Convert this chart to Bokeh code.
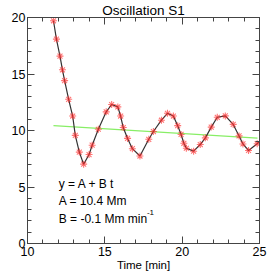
from bokeh.plotting import figure
from bokeh.models import Range1d, LinearAxis, SingleIntervalTicker, Label
from bokeh.embed import file_html
from bokeh.resources import INLINE

# Observed positions (time in minutes, displacement in Mm)
time_min = [11.68, 11.87, 12.10, 12.26, 12.40, 12.66, 12.92, 13.09, 13.35, 13.63,
            13.98, 14.18, 14.58, 15.09, 15.44, 15.84, 16.02, 16.19, 16.47, 16.78,
            17.27, 17.84, 18.14, 18.66, 19.05, 19.43, 19.71, 19.93, 20.11, 20.27,
            20.74, 21.17, 21.50, 21.88, 22.27, 22.79, 23.30, 23.68, 23.93, 24.29, 24.85]
position = [19.71, 18.09, 16.58, 15.37, 14.41, 12.76, 11.28, 9.57, 8.09, 7.02,
            7.87, 8.70, 10.11, 11.65, 12.30, 12.09, 11.28, 10.26, 9.30, 8.39,
            7.74, 9.22, 9.91, 10.91, 11.52, 11.28, 10.43, 9.65, 8.87, 8.43,
            8.17, 8.76, 9.35, 10.30, 11.17, 11.29, 10.54, 9.52, 8.81, 8.23, 8.83]

# Fitted curve (through the observations, continued to the right edge)
fit_t = time_min + [25.0]
fit_y = position + [9.05]

# Linear trend y = A + B t
trend_t = [11.68, 24.87]
trend_y = [10.43, 9.33]

title_text = "Oscillation S1"
xlabel_text = "Time [min]"
annot_lines = ["y = A + B t", "A = 10.4 Mm", "B = -0.1 Mm min"]
annot_sup = "-1"

FONT = "Liberation Sans"
AX = "#444444"

p = figure(width=273, height=273, output_backend="svg", toolbar_location=None,
           x_range=Range1d(10, 25), y_range=Range1d(0, 20),
           min_border_left=27, min_border_right=14, min_border_top=12, min_border_bottom=29,
           background_fill_color="white", border_fill_color="white")
p.xgrid.visible = False
p.ygrid.visible = False
p.outline_line_color = AX
p.outline_line_width = 1

p.title.text = title_text
p.title.align = "center"
p.title.text_font = FONT
p.title.text_font_size = "13.5px"
p.title.text_font_style = "normal"
p.title.text_color = "black"
p.title.text_line_height = 0.75
p.title.standoff = 0
p.title.offset = 0

def style_axis(ax, labels=True):
    ax.ticker = SingleIntervalTicker(interval=5, num_minor_ticks=5)
    ax.axis_line_color = AX
    ax.major_tick_line_color = AX
    ax.minor_tick_line_color = AX
    ax.major_tick_in = 7
    ax.major_tick_out = 0
    ax.minor_tick_in = 4
    ax.minor_tick_out = 0
    ax.major_label_text_font = FONT
    if labels:
        ax.major_label_text_font_size = "12.5px"
        ax.major_label_text_color = "black"
        ax.major_label_standoff = 3
    else:
        ax.major_label_text_font_size = "1px"
        ax.major_label_text_color = None
        ax.major_label_standoff = 0

style_axis(p.xaxis[0])
style_axis(p.yaxis[0])
p.yaxis[0].major_label_standoff = 2
p.xaxis[0].axis_label = xlabel_text
p.xaxis[0].axis_label_text_font = FONT
p.xaxis[0].axis_label_text_font_size = "11.5px"
p.xaxis[0].axis_label_text_font_style = "normal"
p.xaxis[0].axis_label_text_color = "black"
p.xaxis[0].axis_label_standoff = 0

top_ax = LinearAxis()
style_axis(top_ax, labels=False)
p.add_layout(top_ax, "above")
right_ax = LinearAxis()
style_axis(right_ax, labels=False)
p.add_layout(right_ax, "right")

p.line(trend_t, trend_y, line_color="#88ee66", line_width=1.2)
p.line(fit_t, fit_y, line_color="#333333", line_width=1.2)
p.scatter(time_min, position, marker="asterisk", size=7,
          line_color="#ff2a2a", line_alpha=0.65, line_width=1.1)

ys = [5.30, 3.74, 2.17]
for t, yy in zip(annot_lines, ys):
    p.add_layout(Label(x=12.02, y=yy, text=t, text_font=FONT, text_font_size="12px",
                       text_align="left", text_baseline="middle", text_color="black"))
p.add_layout(Label(x=17.72, y=2.74, text=annot_sup, text_font=FONT, text_font_size="8px",
                   text_align="left", text_baseline="middle", text_color="black"))

open("out.html", "w").write(file_html(p, INLINE))
